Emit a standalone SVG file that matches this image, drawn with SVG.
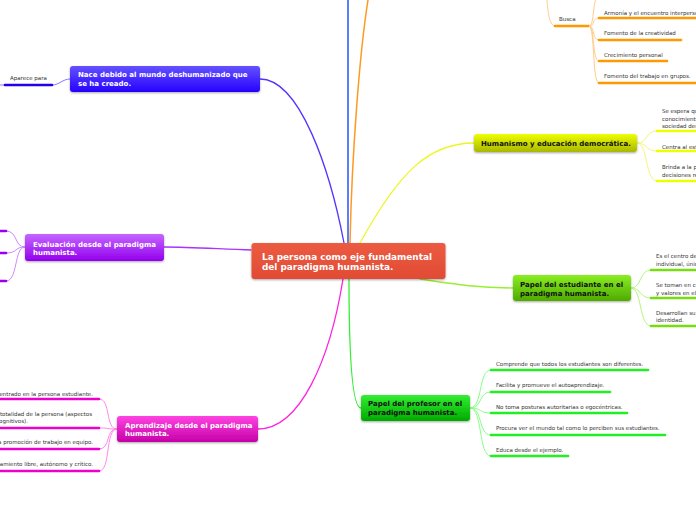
<svg xmlns="http://www.w3.org/2000/svg" width="696" height="520" viewBox="0 0 696 520">
<defs>
<filter id="sh" x="-10%" y="-30%" width="120%" height="170%"><feDropShadow dx="0" dy="1" stdDeviation="1.2" flood-color="#000" flood-opacity="0.35"/></filter>
<linearGradient id="gC" x1="0" y1="0" x2="0" y2="1"><stop offset="0" stop-color="#EC5B42"/><stop offset="1" stop-color="#E14B34"/></linearGradient>
<linearGradient id="gB" x1="0" y1="0" x2="0" y2="1"><stop offset="0" stop-color="#6352FF"/><stop offset="1" stop-color="#2600FF"/></linearGradient>
<linearGradient id="gY" x1="0" y1="0" x2="0" y2="1"><stop offset="0" stop-color="#EEFF00"/><stop offset="1" stop-color="#A9B800"/></linearGradient>
<linearGradient id="gL" x1="0" y1="0" x2="0" y2="1"><stop offset="0" stop-color="#8AEE22"/><stop offset="1" stop-color="#4EAA00"/></linearGradient>
<linearGradient id="gG" x1="0" y1="0" x2="0" y2="1"><stop offset="0" stop-color="#33EE33"/><stop offset="1" stop-color="#00AA00"/></linearGradient>
<linearGradient id="gM" x1="0" y1="0" x2="0" y2="1"><stop offset="0" stop-color="#FF44E2"/><stop offset="1" stop-color="#C500A8"/></linearGradient>
<linearGradient id="gP" x1="0" y1="0" x2="0" y2="1"><stop offset="0" stop-color="#C466FF"/><stop offset="1" stop-color="#9300EE"/></linearGradient>
</defs>
<style>
.nt{font-family:"DejaVu Sans",Verdana,sans-serif;font-weight:bold;font-size:7px}
.ct{font-family:"DejaVu Sans",Verdana,sans-serif;font-weight:bold;font-size:8.9px;fill:#fff}
.w{fill:#fff}.k{fill:#111}
.st{font-family:"DejaVu Sans",Verdana,sans-serif;font-size:5.5px;fill:#333}
.c{fill:none;stroke-linecap:round}
.u{fill:none;stroke-width:2.6;stroke-linecap:round}
</style>
<g id="connectors">
<path class="c" d="M348,243 L348,0" stroke="#2255FF" stroke-width="1.5"/>
<path class="c" d="M350,243 C352,150 360,50 368,0" stroke="#FF9922" stroke-width="1.5"/>
<path class="c" d="M344,243 C330,170 300,79 260,79" stroke="#5533FF" stroke-width="1.3"/>
<path class="c" d="M360,243 C400,170 430,143 474,143" stroke="#EEF522" stroke-width="1.3"/>
<path class="c" d="M420,279 C460,285 480,288 513,288" stroke="#99EE33" stroke-width="1.3"/>
<path class="c" d="M349,279 C349,350 352,408 361,408" stroke="#33EE33" stroke-width="1.3"/>
<path class="c" d="M343,279 C330,360 300,429 258,429" stroke="#FF22DD" stroke-width="1.3"/>
<path class="c" d="M251,250 C220,249 190,247 164,247" stroke="#AA33FF" stroke-width="1.3"/>
<path class="c" d="M70,79 C62,79 60,85 52,85" stroke="#8877FF" stroke-width="1"/>
<path class="c" d="M0,85 L5,85" stroke="#8877FF" stroke-width="1"/>
<path class="u" d="M5,85 L52,85" stroke="#2200EE"/>
<path class="c" d="M547,0 C548,15 550,26 555,26" stroke="#FFCC88" stroke-width="1"/>
<path class="u" d="M555,26 L589,26" stroke="#FF9900"/>
<g stroke="#FFCC88" stroke-width="1" fill="none">
<path d="M589,26 C595,26 592,-4 599,-4"/>
<path d="M589,26 C595,26 592,18 599,18"/>
<path d="M589,26 C595,26 592,40 599,40"/>
<path d="M589,26 C595,26 592,61 599,61"/>
<path d="M589,26 C595,26 592,83 599,83"/>
</g>
<g stroke="#FF9900" class="u">
<path d="M599,18 L697,18"/>
<path d="M599,40 L681,40"/>
<path d="M599,61 L667,61"/>
<path d="M599,83 L697,83"/>
</g>
<g stroke="#F5F580" stroke-width="1" fill="none">
<path d="M637,143 C648,143 645,131 657,131"/>
<path d="M637,143 C648,143 645,151 657,151"/>
<path d="M637,143 C648,143 645,181 657,181"/>
</g>
<g stroke="#EEFF00" class="u">
<path d="M657,131 L697,131"/>
<path d="M657,151 L697,151"/>
<path d="M657,181 L697,181"/>
</g>
<g stroke="#B5F580" stroke-width="1" fill="none">
<path d="M631,288 C642,288 639,270 651,270"/>
<path d="M631,288 C642,288 639,298 651,298"/>
<path d="M631,288 C642,288 639,326 651,326"/>
</g>
<g stroke="#77DD11" class="u">
<path d="M651,270 L697,270"/>
<path d="M651,298 L697,298"/>
<path d="M651,326 L697,326"/>
</g>
<g stroke="#88FF88" stroke-width="1" fill="none">
<path d="M470,408 C483,408 478,370 491,370"/>
<path d="M470,408 C483,408 478,392 491,392"/>
<path d="M470,408 C483,408 478,413 491,413"/>
<path d="M470,408 C483,408 478,435 491,435"/>
<path d="M470,408 C483,408 478,456 491,456"/>
</g>
<g stroke="#22EE22" class="u">
<path d="M491,370 L648,370"/>
<path d="M491,392 L610,392"/>
<path d="M491,413 L627,413"/>
<path d="M491,435 L665,435"/>
<path d="M491,456 L568,456"/>
</g>
<g stroke="#FF88EE" stroke-width="1" fill="none">
<path d="M117,429 C105,429 111,399 99,399"/>
<path d="M117,429 C105,429 111,428 99,428"/>
<path d="M117,429 C105,429 111,449 99,449"/>
<path d="M117,429 C105,429 111,471 99,471"/>
</g>
<g stroke="#EE00CC" class="u">
<path d="M-2,399 L99,399"/>
<path d="M-2,428 L99,428"/>
<path d="M-2,449 L99,449"/>
<path d="M-2,471 L99,471"/>
</g>
<g stroke="#CC88FF" stroke-width="1" fill="none">
<path d="M25,247 C14,247 18,231 6,231"/>
<path d="M25,247 C14,247 18,253 6,253"/>
<path d="M25,247 C14,247 18,281 6,281"/>
</g>
<g stroke="#9900EE" class="u">
<path d="M-2,231 L6,231"/>
<path d="M-2,253 L6,253"/>
<path d="M-2,281 L6,281"/>
</g>
</g>
<g id="central">
<rect x="251.5" y="243" width="194" height="36" rx="3" fill="url(#gC)" filter="url(#sh)"/>
<text class="ct" x="262" y="259.5">La persona como eje fundamental</text>
<text class="ct" x="262" y="270">del paradigma humanista.</text>
</g>
<g id="n-nace">
<rect x="70" y="66" width="190" height="26" rx="3" fill="url(#gB)" filter="url(#sh)"/>
<text class="nt w" x="78" y="76.5">Nace debido al mundo deshumanizado que</text>
<text class="nt w" x="78" y="86">se ha creado.</text>
</g>
<g id="n-aparece"><text class="st" x="10" y="80">Aparece para</text></g>
<g id="n-busca"><text class="st" x="559" y="21">Busca</text></g>
<g id="n-busca-children">
<text class="st" x="604" y="14.5">Armonía y el encuentro interpersonal.</text>
<text class="st" x="604" y="35">Fomento de la creatividad</text>
<text class="st" x="604" y="56.5">Crecimiento personal</text>
<text class="st" x="604" y="78">Fomento del trabajo en grupos.</text>
</g>
<g id="n-humanismo">
<rect x="474" y="134" width="163" height="18" rx="3" fill="url(#gY)" filter="url(#sh)"/>
<text class="nt k" x="481" y="146">Humanismo y educación democrática.</text>
</g>
<g id="n-humanismo-children">
<text class="st" x="662" y="113">Se espera que</text>
<text class="st" x="662" y="120.5">conocimientos</text>
<text class="st" x="662" y="128">sociedad democrática</text>
<text class="st" x="662" y="148.5">Centra al estudiante</text>
<text class="st" x="662" y="169">Brinda a la posibilidad</text>
<text class="st" x="662" y="176.5">decisiones responsables</text>
</g>
<g id="n-estudiante">
<rect x="513" y="275" width="118" height="26" rx="3" fill="url(#gL)" filter="url(#sh)"/>
<text class="nt k" x="520" y="286.5">Papel del estudiante en el</text>
<text class="nt k" x="520" y="295.5">paradigma humanista.</text>
</g>
<g id="n-estudiante-children">
<text class="st" x="656" y="258">Es el centro del</text>
<text class="st" x="656" y="265.5">individual, única</text>
<text class="st" x="656" y="287">Se toman en cuenta</text>
<text class="st" x="656" y="294.5">y valores en el</text>
<text class="st" x="656" y="314.5">Desarrollan su</text>
<text class="st" x="656" y="322">identidad.</text>
</g>
<g id="n-profesor">
<rect x="361" y="395" width="109" height="26" rx="3" fill="url(#gG)" filter="url(#sh)"/>
<text class="nt k" x="368" y="405.5">Papel del profesor en el</text>
<text class="nt k" x="368" y="415">paradigma humanista.</text>
</g>
<g id="n-profesor-children">
<text class="st" x="496" y="366">Comprende que todos los estudiantes son diferentes.</text>
<text class="st" x="496" y="387">Facilita y promueve el autoaprendizaje.</text>
<text class="st" x="496" y="409">No toma posturas autoritarias o egocéntricas.</text>
<text class="st" x="496" y="430">Procura ver el mundo tal como lo perciben sus estudiantes.</text>
<text class="st" x="496" y="451.5">Educa desde el ejemplo.</text>
</g>
<g id="n-aprendizaje">
<rect x="117" y="416" width="141" height="26" rx="3" fill="url(#gM)" filter="url(#sh)"/>
<text class="nt w" x="125" y="427.5">Aprendizaje desde el paradigma</text>
<text class="nt w" x="125" y="435.5">humanista.</text>
</g>
<g id="n-aprendizaje-children" text-anchor="end">
<text class="st" x="93" y="395.5">Centrado en la persona estudiante.</text>
<text class="st" x="92" y="416">la totalidad de la persona (aspectos</text>
<text class="st" x="28" y="423">cognitivos).</text>
<text class="st" x="93" y="444">la promoción de trabajo en equipo.</text>
<text class="st" x="93" y="466">pensamiento libre, autónomo y crítico.</text>
</g>
<g id="n-evaluacion">
<rect x="25" y="234" width="139" height="27" rx="3" fill="url(#gP)" filter="url(#sh)"/>
<text class="nt w" x="33" y="246.5">Evaluación desde el paradigma</text>
<text class="nt w" x="33" y="254.5">humanista.</text>
</g>
</svg>
